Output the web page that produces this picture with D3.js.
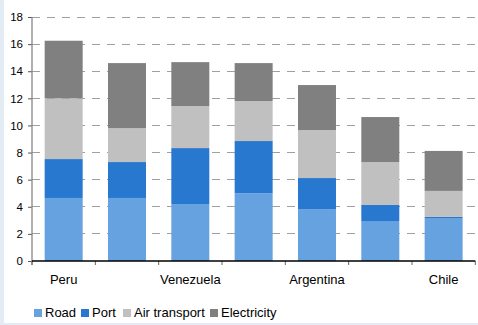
<!DOCTYPE html>
<html>
<head>
<meta charset="utf-8">
<script src="https://cdn.jsdelivr.net/npm/d3@7"></script>
<style>
  html, body { margin: 0; padding: 0; background: #e3ecf4; }
  svg { display: block; font-family: "Liberation Sans", Arial, sans-serif; }
</style>
</head>
<body>
<svg id="chart" width="478" height="325"></svg>
<script>
// Category labels (only every other country is labelled on the axis)
const categories = ["Peru", "", "Venezuela", "", "Argentina", "", "Chile"];
const seriesNames = ["Road", "Port", "Air transport", "Electricity"];
const road        = [4.65, 4.65, 4.20, 5.00, 3.83, 2.95, 3.17];
const port        = [2.87, 2.65, 4.13, 3.85, 2.29, 1.18, 0.08];
const airTransport= [4.48, 2.50, 3.10, 2.95, 3.54, 3.17, 1.92];
const electricity = [4.25, 4.80, 3.24, 2.80, 3.32, 3.32, 2.95];
const yTicks = [0, 2, 4, 6, 8, 10, 12, 14, 16, 18];

const colors = ["#66a1e0", "#2878d0", "#c0c0c0", "#808080"];

const svg = d3.select("#chart");

// white panel with a thin tinted frame on the left and bottom
svg.append("rect").attr("x", 4).attr("y", 0).attr("width", 474).attr("height", 323).attr("fill", "#ffffff");

const rows = categories.map((c, i) => ({
  idx: i,
  Road: road[i], Port: port[i], "Air transport": airTransport[i], Electricity: electricity[i]
}));
const stacked = d3.stack().keys(seriesNames)(rows);

const x = d3.scaleBand().domain(d3.range(categories.length)).range([32, 475.3]).paddingInner(0.4).paddingOuter(0.2);
const y = d3.scaleLinear().domain([0, 18]).range([261, 17]);

// dashed gridlines
svg.append("g").selectAll("line").data(yTicks.filter(d => d > 0)).join("line")
  .attr("x1", 32).attr("x2", 478)
  .attr("y1", d => y(d)).attr("y2", d => y(d))
  .attr("stroke", "#a0a0a0").attr("stroke-width", 1)
  .attr("stroke-dasharray", "8,7")
  .attr("shape-rendering", "crispEdges");

// stacked bars
svg.append("g").selectAll("g").data(stacked).join("g")
  .attr("fill", (d, i) => colors[i])
  .selectAll("rect").data(d => d).join("rect")
  .attr("x", d => x(d.data.idx))
  .attr("width", x.bandwidth())
  .attr("y", d => y(d[1]))
  .attr("height", d => y(d[0]) - y(d[1]));

// y axis
const yAxis = svg.append("g").attr("transform", "translate(32,0)")
  .call(d3.axisLeft(y).tickValues(yTicks).tickSize(4).tickPadding(5));
yAxis.select(".domain").remove();
yAxis.selectAll(".tick line").attr("stroke", "#555");
yAxis.selectAll("text").attr("font-size", 11.5).attr("fill", "#000")
  .attr("font-family", "Liberation Sans, Arial, sans-serif");
svg.append("line").attr("x1", 32).attr("x2", 32).attr("y1", 17).attr("y2", 265)
  .attr("stroke", "#868686").attr("stroke-width", 1.3);

// x axis: boundary ticks between categories
const bounds = d3.range(categories.length + 1).map(i => 32 + i * x.step() + 0);
const step = (475.3 - 32) / categories.length;
svg.append("g").selectAll("line").data(d3.range(categories.length + 1)).join("line")
  .attr("x1", i => 32 + i * step).attr("x2", i => 32 + i * step)
  .attr("y1", 261).attr("y2", 265)
  .attr("stroke", "#666").attr("stroke-width", 1);
svg.append("line").attr("x1", 32).attr("x2", 475.3).attr("y1", 261).attr("y2", 261)
  .attr("stroke", "#000").attr("stroke-width", 1.3);

svg.append("g").selectAll("text").data(categories).join("text")
  .attr("x", (d, i) => x(i) + x.bandwidth() / 2)
  .attr("y", 284)
  .attr("text-anchor", "middle")
  .attr("font-size", 13)
  .attr("fill", "#000")
  .text(d => d);

// legend
const legendX = [34, 81, 123, 210];
const legend = svg.append("g").selectAll("g").data(seriesNames).join("g")
  .attr("transform", (d, i) => `translate(${legendX[i]},0)`);
legend.append("rect").attr("x", 0).attr("y", 309).attr("width", 8).attr("height", 8)
  .attr("fill", (d, i) => colors[i]);
legend.append("text").attr("x", 11).attr("y", 316.5)
  .attr("font-size", 13).attr("fill", "#000").text(d => d);
</script>
</body>
</html>
